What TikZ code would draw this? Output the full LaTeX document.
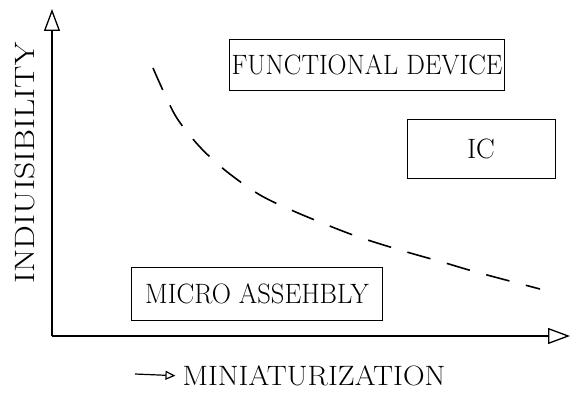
\documentclass[tikz,border=0pt]{standalone}
\usepackage{fontspec}
\usetikzlibrary{arrows.meta}

\begin{document}
\begin{tikzpicture}[x=1pt, y=-1pt, > = {Triangle[open, length=22pt, width=16pt]},
  lbl/.style = {font=\fontsize{28}{31}\selectfont, inner sep=0pt},
  region/.style = {lbl, draw, line width=1pt}]
\useasboundingbox (0,0) rectangle (572,395);
\coordinate (origin) at (52,336);
\coordinate (ytip) at (52,9);
\coordinate (xtip) at (570,336);
\draw[->, line width=1.3pt] (origin) -- (ytip);
\draw[->, line width=1.3pt] (origin) -- (xtip);
\node[lbl, rotate=90, xscale=1.2] (indiv) at (25,163) {INDIUISIBILITY};

\node[region, xscale=0.94, minimum width=292pt, minimum height=51pt] (fdev) at (367,65) {FUNCTIONAL DEVICE};
\node[region, minimum width=148pt, minimum height=59pt] (ic) at (481,149) {IC};
\node[region, xscale=0.95, minimum width=264pt, minimum height=53pt] (micro) at (257,294) {MICRO ASSEHBLY};

% boundary
\draw[line width=1.6pt, dash pattern=on 24pt off 17pt] plot [smooth] coordinates
  {(153,68) (175,115) (199,146) (226,171) (260,195) (298,213) (353,235) (400,250) (442,262) (476,272) (521,284) (540,289)};

\node[lbl, xscale=1.07] (miniat) at (314,376) {MINIATURIZATION};
\coordinate (mstart) at (135,374);
\draw[-{Triangle[open, length=10pt, width=9pt]}, line width=1.2pt, shorten >=7pt] (mstart) -- (miniat.west);
\end{tikzpicture}
\end{document}
